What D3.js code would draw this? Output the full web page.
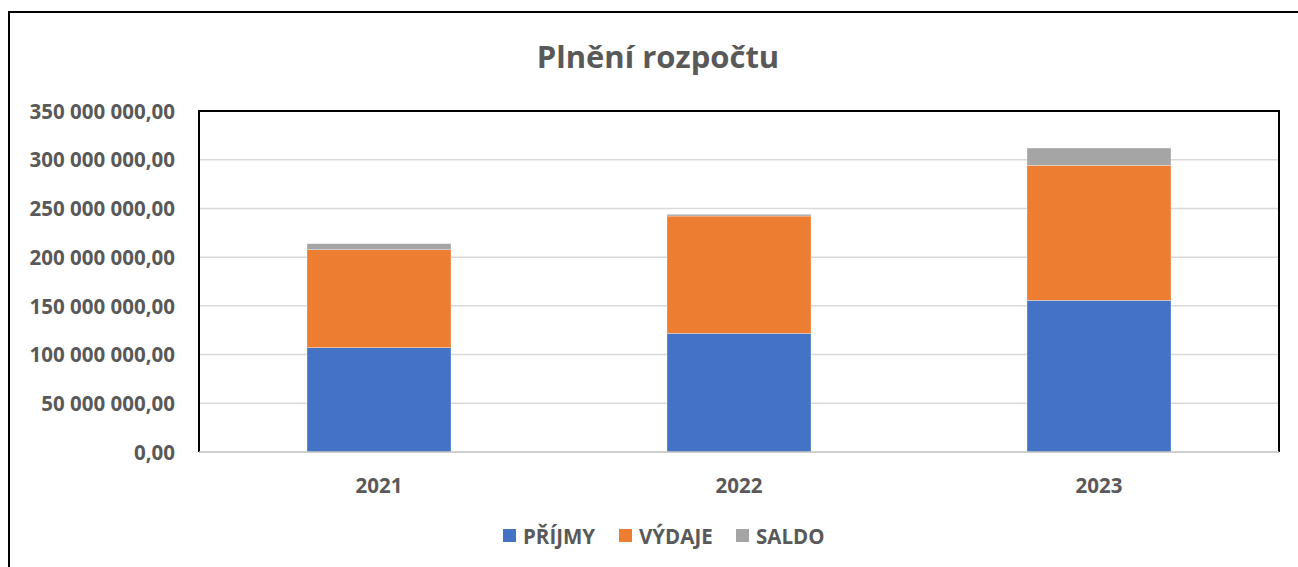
<!DOCTYPE html>
<html><head><meta charset="utf-8">
<script src="https://cdn.jsdelivr.net/npm/d3@7"></script>
<style>body{margin:0;background:#fff}svg{display:block}text{font-family:"Open Sans",sans-serif;font-weight:bold;fill:#595959}</style>
</head><body><svg id="c" width="1298" height="567"></svg>
<script>
const categories = ["2021","2022","2023"];
const seriesNames = ["PŘÍJMY","VÝDAJE","SALDO"];
const prijmy = [107100000, 121800000, 155700000];
const vydaje = [100500000, 120400000, 138500000];
const saldo  = [6200000, 1800000, 17800000];
const yTicks = [0,50000000,100000000,150000000,200000000,250000000,300000000,350000000];
const colors = ["#4472c4","#ed7d31","#a5a5a5"];

const svg = d3.select("#c");
const m = {l:199, r:1279, t:111, b:452};
const x = d3.scaleBand().domain(categories).range([m.l,m.r]).paddingInner(0.6).paddingOuter(0.3);
const y = d3.scaleLinear().domain([0,350000000]).range([m.b,m.t]);

// outer border
svg.append("rect").attr("x",9).attr("y",12).attr("width",1400).attr("height",700)
  .attr("fill","none").attr("stroke","#000").attr("stroke-width",2);

svg.append("text").attr("x",658).attr("y",68).attr("text-anchor","middle")
  .style("font-size","31px").text("Plnění rozpočtu");

const fmt = v => d3.format(",.2f")(v).replace(/,/g," ").replace(".",",");

// gridlines
svg.append("g").selectAll("line").data(yTicks.slice(1,-1)).join("line")
  .attr("x1",m.l).attr("x2",m.r).attr("y1",d=>y(d)).attr("y2",d=>y(d))
  .attr("stroke","#d9d9d9").attr("stroke-width",1.5);

// y labels
const yAxis = d3.axisLeft(y).tickValues(yTicks).tickFormat(fmt).tickSize(0).tickPadding(0);
const ga = svg.append("g").attr("transform",`translate(175,0)`).call(yAxis);
ga.select(".domain").remove();
ga.selectAll("text").style("font-size","20.5px").attr("dy","0.35em").style("fill","#595959");

// stacked data
const rows = categories.map((c,i)=>({cat:c, "PŘÍJMY":prijmy[i], "VÝDAJE":vydaje[i], "SALDO":saldo[i]}));
const stack = d3.stack().keys(seriesNames)(rows);
svg.append("g").selectAll("g").data(stack).join("g").attr("fill",(d,i)=>colors[i])
  .selectAll("rect").data(d=>d).join("rect")
  .attr("x",d=>x(d.data.cat)).attr("width",x.bandwidth())
  .attr("y",d=>y(d[1])).attr("height",d=>y(d[0])-y(d[1]))
  .attr("stroke","#fff").attr("stroke-width",0.5).attr("stroke-opacity",0.6);

// plot border (top/left/right black)
svg.append("path").attr("d",`M${m.l},${m.b}V${m.t}H${m.r}V${m.b}`)
  .attr("fill","none").attr("stroke","#000").attr("stroke-width",2);
// x axis line
svg.append("line").attr("x1",m.l).attr("x2",m.r).attr("y1",m.b).attr("y2",m.b)
  .attr("stroke","#bfbfbf").attr("stroke-width",1.5);

// x labels
const xAxis = d3.axisBottom(x).tickSize(0).tickPadding(0);
const gx = svg.append("g").attr("transform",`translate(0,${m.b})`).call(xAxis);
gx.select(".domain").remove();
gx.selectAll("text").attr("y",41).attr("dy",0).style("font-size","20.5px").style("fill","#595959");

// legend
const legX = [503,619,736];
const lg = svg.append("g").selectAll("g").data(seriesNames).join("g")
  .attr("transform",(d,i)=>`translate(${legX[i]},536)`);
lg.append("rect").attr("x",0).attr("y",-7).attr("width",13).attr("height",13).attr("fill",(d,i)=>colors[i]);
lg.append("text").attr("x",20).attr("y",7.5).style("font-size","20.5px").text(d=>d);
</script></body></html>
